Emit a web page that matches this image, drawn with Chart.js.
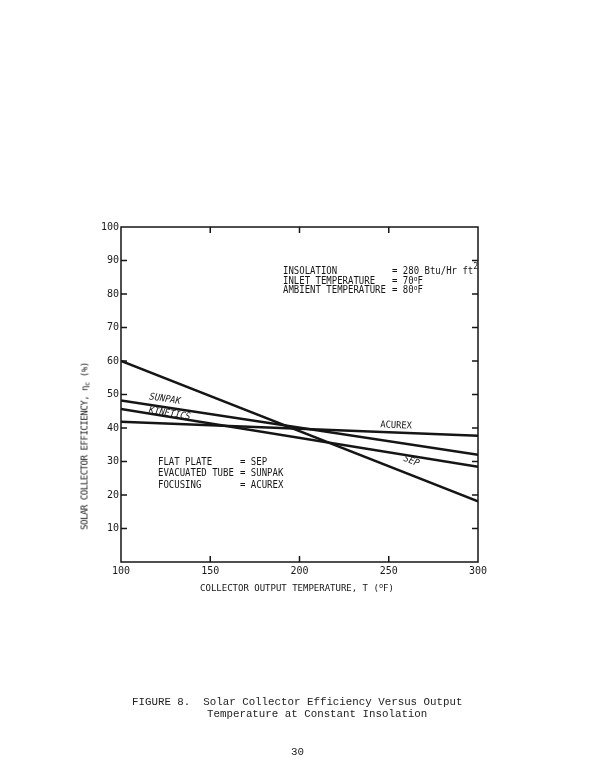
<!DOCTYPE html>
<html><head><meta charset="utf-8">
<script src="https://cdn.jsdelivr.net/npm/chart.js@4.4.0/dist/chart.umd.min.js"></script>
<style>
html,body{margin:0;padding:0;background:#fff;}
#wrap{position:relative;width:612px;height:779px;overflow:hidden;background:#fff;}
canvas{position:absolute;left:0;top:0;}
.t{position:absolute;font-family:"DejaVu Sans Mono","Liberation Mono",monospace;font-size:10px;color:#161616;white-space:pre;line-height:1;transform-origin:0 50%;transform:scaleX(0.9);}
.t sup{font-size:7px;vertical-align:3px;line-height:0;}
.t sub{font-size:7px;vertical-align:-2px;line-height:0;}
.cap{position:absolute;font-family:"Liberation Mono","DejaVu Sans Mono",monospace;font-size:10.8px;color:#222;white-space:pre;line-height:1;}
</style></head><body>
<div id="wrap">
<canvas id="c" width="612" height="779"></canvas>

<div class="t" style="left:283px;top:265.5px;">INSOLATION</div>
<div class="t" style="left:392px;top:265.5px;">= 280 Btu/Hr ft<sup style="font-size:9px;vertical-align:5px;">2</sup></div>
<div class="t" style="left:283px;top:275.5px;">INLET TEMPERATURE</div>
<div class="t" style="left:392px;top:275.5px;">= 70<sup>o</sup>F</div>
<div class="t" style="left:283px;top:285px;">AMBIENT TEMPERATURE</div>
<div class="t" style="left:392px;top:285px;">= 80<sup>o</sup>F</div>

<div class="t" style="left:158px;top:456.5px;">FLAT PLATE</div>
<div class="t" style="left:240px;top:456.5px;">= SEP</div>
<div class="t" style="left:158px;top:468px;">EVACUATED TUBE</div>
<div class="t" style="left:240px;top:468px;">= SUNPAK</div>
<div class="t" style="left:158px;top:479.5px;">FOCUSING</div>
<div class="t" style="left:240px;top:479.5px;">= ACUREX</div>

<div class="t" style="left:85px;top:446px;transform-origin:50% 50%;transform:translate(-50%,-50%) rotate(-90deg);font-size:9px;letter-spacing:-0.45px;">SOLAR COLLECTOR EFFICIENCY, η<sub>c</sub> (%)</div>
<div class="t" style="left:297px;top:588px;transform-origin:50% 50%;transform:translate(-50%,-50%);font-size:9px;">COLLECTOR OUTPUT TEMPERATURE, T (<sup>o</sup>F)</div>

<div class="cap" style="left:132px;top:697px;">FIGURE 8.  Solar Collector Efficiency Versus Output</div>
<div class="cap" style="left:207px;top:709px;">Temperature at Constant Insolation</div>
<div class="cap" style="left:291px;top:747px;">30</div>
</div>
<script>
// ---- data ----
const temperatures = [100, 300];          // collector output temperature (°F)
const sepEff      = [60.0, 18.1];         // flat plate (SEP)
const sunpakEff   = [48.2, 32.0];         // evacuated tube (SUNPAK)
const kineticsEff = [45.7, 28.4];         // KINETICS
const acurexEff   = [41.9, 37.7];         // focusing (ACUREX)
const xTickValues = [100, 150, 200, 250, 300];
const yTickValues = [10, 20, 30, 40, 50, 60, 70, 80, 90, 100];
const seriesNames = ['SEP', 'SUNPAK', 'KINETICS', 'ACUREX'];
const seriesValues = [sepEff, sunpakEff, kineticsEff, acurexEff];

// line label placement: series index, x position (°F), pixel offset normal to line
const lineLabels = [
  {text: 'SUNPAK',   series: 1, at: 124, off: -8,  italic: true},
  {text: 'KINETICS', series: 2, at: 127, off: -3,  italic: true},
  {text: 'ACUREX',   series: 3, at: 254, off: -7,  italic: false},
  {text: 'SEP',      series: 0, at: 260, off: -13, italic: true}
];

const INK = '#151515';
const FONT = '"DejaVu Sans Mono","Liberation Mono",monospace';

const datasets = seriesValues.map((vals, i) => ({
  label: seriesNames[i],
  data: temperatures.map((t, j) => ({x: t, y: vals[j]})),
  borderColor: INK,
  borderWidth: 2.5,
  pointRadius: 0,
  tension: 0,
  fill: false
}));

const framePlugin = {
  id: 'frame',
  afterDatasetsDraw(chart) {
    const {ctx, chartArea: a, scales: {x, y}} = chart;
    ctx.save();
    ctx.strokeStyle = INK;
    ctx.lineWidth = 1.5;
    ctx.strokeRect(a.left, a.top, a.right - a.left, a.bottom - a.top);
    const tl = 6;
    ctx.beginPath();
    yTickValues.forEach(v => {
      if (v >= 100) return;
      const py = y.getPixelForValue(v);
      ctx.moveTo(a.left, py); ctx.lineTo(a.left + tl, py);
      ctx.moveTo(a.right, py); ctx.lineTo(a.right - tl, py);
    });
    xTickValues.forEach(v => {
      if (v <= 100 || v >= 300) return;
      const px = x.getPixelForValue(v);
      ctx.moveTo(px, a.bottom); ctx.lineTo(px, a.bottom - tl);
      ctx.moveTo(px, a.top); ctx.lineTo(px, a.top + tl);
    });
    ctx.stroke();

    // line labels
    ctx.fillStyle = INK;
    ctx.textAlign = 'center';
    ctx.textBaseline = 'middle';
    lineLabels.forEach(l => {
      const vals = seriesValues[l.series];
      const x0 = x.getPixelForValue(temperatures[0]), y0 = y.getPixelForValue(vals[0]);
      const x1 = x.getPixelForValue(temperatures[1]), y1 = y.getPixelForValue(vals[1]);
      const px = x.getPixelForValue(l.at);
      const f = (px - x0) / (x1 - x0);
      const py = y0 + f * (y1 - y0);
      const ang = Math.atan2(y1 - y0, x1 - x0);
      ctx.save();
      ctx.translate(px, py);
      ctx.rotate(ang);
      ctx.scale(0.92, 1);
      ctx.font = (l.italic ? 'oblique ' : '') + '9.5px ' + FONT;
      ctx.fillText(l.text, 0, l.off);
      ctx.restore();
    });
    ctx.restore();
  }
};

new Chart(document.getElementById('c'), {
  type: 'line',
  data: {datasets},
  options: {
    responsive: false,
    animation: false,
    devicePixelRatio: 1,
    layout: {padding: {left: 0, top: 227, right: 134, bottom: 0}},
    plugins: {legend: {display: false}, tooltip: {enabled: false}, title: {display: false}},
    scales: {
      x: {
        type: 'linear', min: 100, max: 300,
        grid: {display: false, drawTicks: false},
        border: {display: false},
        afterBuildTicks: s => { s.ticks = xTickValues.map(v => ({value: v})); },
        afterFit: s => { s.height = 217; },
        ticks: {padding: 3, maxRotation: 0, autoSkip: false, color: '#1a1a1a',
                font: {family: FONT, size: 10}}
      },
      y: {
        type: 'linear', min: 0, max: 100,
        grid: {display: false, drawTicks: false},
        border: {display: false},
        afterBuildTicks: s => { s.ticks = yTickValues.map(v => ({value: v})); },
        afterFit: s => { s.width = 121; },
        ticks: {padding: 2, autoSkip: false, color: '#1a1a1a',
                font: {family: FONT, size: 10}}
      }
    }
  },
  plugins: [framePlugin]
});
</script>
</body></html>
